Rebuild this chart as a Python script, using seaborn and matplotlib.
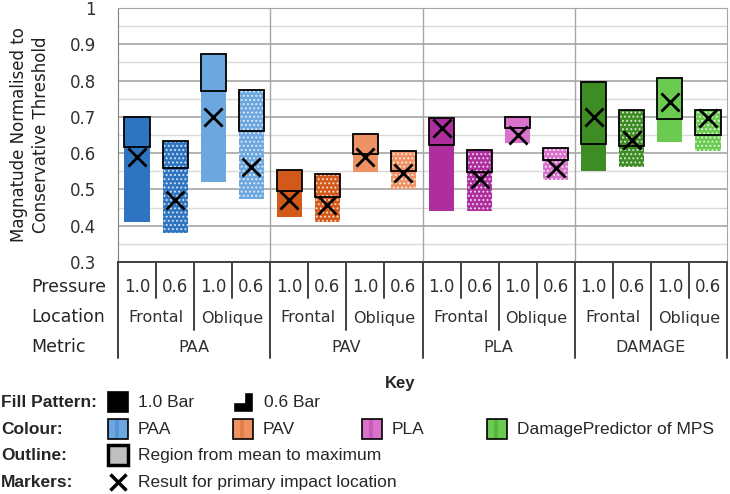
import numpy as np
import seaborn as sns
import matplotlib.pyplot as plt
import matplotlib.patches as mpatches
from matplotlib.transforms import blended_transform_factory

# data
metrics = ['PAA', 'PAV', 'PLA', 'DAMAGE']
locations = ['Frontal', 'Oblique']
pressures = ['1.0', '0.6']

min_vals = [0.41, 0.38, 0.52, 0.475,
            0.425, 0.41, 0.548, 0.50,
            0.44, 0.44, 0.627, 0.526,
            0.55, 0.563, 0.632, 0.607]
mean_vals = [0.617, 0.56, 0.77, 0.66,
             0.495, 0.48, 0.597, 0.551,
             0.622, 0.549, 0.669, 0.581,
             0.625, 0.62, 0.694, 0.65]
max_vals = [0.70, 0.633, 0.873, 0.775,
            0.553, 0.543, 0.653, 0.606,
            0.697, 0.61, 0.70, 0.614,
            0.796, 0.72, 0.807, 0.72]
primary_vals = [0.59, 0.47, 0.70, 0.563,
                0.47, 0.457, 0.59, 0.545,
                0.67, 0.53, 0.65, 0.56,
                0.70, 0.636, 0.741, 0.696]

# dark = frontal, light = oblique
dark_colors = {'PAA': '#2E74C0', 'PAV': '#D2591A', 'PLA': '#AE2E9E', 'DAMAGE': '#3D8C24'}
light_colors = {'PAA': '#6DA7DF', 'PAV': '#EF9263', 'PLA': '#D872CB', 'DAMAGE': '#6BCB50'}

sns.set_style('white')
plt.rcParams['font.family'] = ['Liberation Sans', 'DejaVu Sans']
plt.rcParams['hatch.linewidth'] = 0.9

fig = plt.figure(figsize=(7.3, 4.94), dpi=100)
ax = fig.add_axes([118 / 730, 1 - 262 / 494, 609 / 730, 254 / 494])

n = len(min_vals)
x = np.arange(n)
width = 0.66

colors = []
for m in metrics:
    for loc in locations:
        for p in pressures:
            colors.append(dark_colors[m] if loc == 'Frontal' else light_colors[m])
is_06 = [p == '0.6' for m in metrics for loc in locations for p in pressures]

lo = np.array(min_vals)
mu = np.array(mean_vals)
hi = np.array(max_vals)

# full range, no outline
ax.bar(x, hi - lo, bottom=lo, width=width, color=colors, linewidth=0, zorder=3)
# dotted fill for the 0.6 bar cases
for i in range(n):
    if is_06[i]:
        ax.bar(x[i], hi[i] - lo[i], bottom=lo[i], width=width, facecolor='none',
               edgecolor='white', hatch='....', linewidth=0, alpha=0.75, zorder=4)
# mean -> max outlined box
ax.bar(x, hi - mu, bottom=mu, width=width, facecolor='none', edgecolor='black',
       linewidth=1.3, zorder=5)

sns.scatterplot(x=x, y=primary_vals, marker='x', s=170, color='black',
                linewidth=2.0, ax=ax, zorder=6, legend=False)

ax.set_xlim(-0.5, n - 0.5)
ax.set_ylim(0.3, 1.0)
ax.set_yticks(np.arange(0.3, 1.01, 0.1))
ax.set_yticklabels(['0.3', '0.4', '0.5', '0.6', '0.7', '0.8', '0.9', '1'])
ax.set_yticks(np.arange(0.35, 1.0, 0.1), minor=True)
ax.tick_params(axis='y', which='both', length=0, labelsize=13, pad=16,
               labelcolor='#303030')
for t in ax.get_yticklabels():
    t.set_family(['DejaVu Sans'])
    t.set_fontsize(12)
ax.grid(axis='y', which='major', color='#A6A6A6', linewidth=1.2, zorder=0)
ax.grid(axis='y', which='minor', color='#D9D9D9', linewidth=1.0, zorder=0)
for b in [3.5, 7.5, 11.5]:
    ax.axvline(b, color='#A6A6A6', linewidth=1.0, zorder=1)

ax.set_xticks(np.arange(-0.5, n, 0.5))
ax.set_xticklabels([])
ax.tick_params(axis='x', direction='inout', length=8, width=1.2, color='#404040')
for side in ['top', 'right', 'left']:
    ax.spines[side].set_color('#A6A6A6')
ax.spines['bottom'].set_color('#404040')
ax.spines['bottom'].set_linewidth(1.4)
ax.spines['left'].set_color('#808080')

ax.set_ylabel('Magnatude Normalised to\nConservative Threshold', fontsize=12,
              family=['DejaVu Sans'], labelpad=14, linespacing=1.25, color='#202020')

# multi-level category axis
tr = blended_transform_factory(ax.transData, fig.transFigure)
def fy(py):
    return 1 - py / 494

row_y = {'Pressure': 287, 'Location': 317, 'Metric': 347}
for name, py in row_y.items():
    fig.text(31 / 730, fy(py), name, fontsize=12.5, family=['DejaVu Sans'], va='center')

for i in range(n):
    ax.text(x[i], fy(287), pressures[i % 2], transform=tr, ha='center', va='center',
            fontsize=12, family=['DejaVu Sans'], color='#303030')
for j in range(n // 2):
    ax.text(2 * j + 0.5, fy(318), locations[j % 2], transform=tr, ha='center',
            va='center', fontsize=11.5, family=['DejaVu Sans'], color='#303030')
for k, m in enumerate(metrics):
    ax.text(4 * k + 1.5, fy(348), m, transform=tr, ha='center', va='center',
            fontsize=11.5, family=['DejaVu Sans'], color='#303030')

for b in np.arange(-0.5, n, 1.0):
    if (b + 0.5) % 4 == 0:
        bottom = 358
    elif (b + 0.5) % 2 == 0:
        bottom = 330
    else:
        bottom = 298
    ax.plot([b, b], [fy(262), fy(bottom)], transform=tr, color='#404040',
            linewidth=1.4, clip_on=False)

# key
fig.text(400 / 730, fy(383), 'Key', fontsize=12, fontweight='bold', ha='center', va='center')
key_rows = {'Fill Pattern:': 402, 'Colour:': 429, 'Outline:': 455, 'Markers:': 482}
for lab, py in key_rows.items():
    fig.text(1 / 730, fy(py), lab, fontsize=12.5, fontweight='bold', va='center')

def swatch(px, py, fc, ec='black', lw=1.2):
    r = mpatches.Rectangle(((px) / 730, fy(py + 10)), 20 / 730, 20 / 494,
                           transform=fig.transFigure, facecolor=fc, edgecolor=ec,
                           linewidth=lw)
    fig.patches.append(r)

def key_text(px, py, s):
    fig.text(px / 730, fy(py), s, fontsize=12.5, va='center')

# fill pattern row
swatch(108, 402, 'black')
key_text(138, 402, '1.0 Bar')
step = mpatches.Polygon([(233, 412), (253, 412), (253, 392), (244, 392),
                         (244, 402), (233, 402)], closed=True)
step.set_xy([(px / 730, fy(py)) for px, py in step.get_xy()])
step.set_transform(fig.transFigure)
step.set_facecolor('black')
fig.patches.append(step)
key_text(264, 402, '0.6 Bar')

# colour row
col_x = [108, 233, 362, 487]
col_lab = ['PAA', 'PAV', 'PLA', 'DamagePredictor of MPS']
for px, m, lab in zip(col_x, metrics, col_lab):
    swatch(px, 429, light_colors[m])
    stripe = mpatches.Rectangle(((px + 7) / 730, fy(438)), 4 / 730, 18 / 494,
                                transform=fig.transFigure, facecolor=dark_colors[m],
                                alpha=0.35, linewidth=0)
    fig.patches.append(stripe)
    key_text(px + 30, 429, lab)

# outline row
swatch(108, 455, '#BFBFBF', lw=2.5)
key_text(138, 455, 'Region from mean to maximum')

# markers row
fig.lines.append(plt.Line2D([118 / 730], [fy(482)], marker='x', markersize=12,
                            markeredgewidth=2.5, color='black',
                            transform=fig.transFigure))
key_text(138, 482, 'Result for primary impact location')

fig.savefig('out.png', dpi=100)
